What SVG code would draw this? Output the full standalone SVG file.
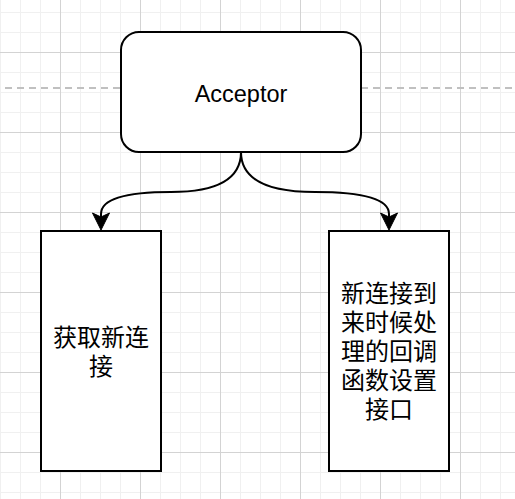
<svg xmlns="http://www.w3.org/2000/svg" width="515" height="499" viewBox="0 0 515 499">
<defs>
<pattern id="grid" x="60" y="52" width="80" height="80" patternUnits="userSpaceOnUse">
<path d="M20.5 0V80M40.5 0V80M60.5 0V80M0 20.5H80M0 40.5H80M0 60.5H80" stroke="#f0f0f0" stroke-width="1" fill="none"/>
<path d="M0.5 0V80M0 0.5H80" stroke="#d3d3d3" stroke-width="1" fill="none"/>
</pattern>
<marker id="arrow" markerUnits="userSpaceOnUse" markerWidth="20" markerHeight="20" refX="0" refY="0" orient="auto" overflow="visible">
<path d="M8 0L-9 -8.5L-5 0L-9 8.5Z" fill="#000" stroke="#000" stroke-width="1"/>
</marker>
</defs>
<style>
.node{fill:#fff;stroke:#000;stroke-width:2}
.edge{fill:none;stroke:#000;stroke-width:2;marker-end:url(#arrow)}
.lbl{font-family:"Liberation Sans","Noto Sans CJK SC",sans-serif;fill:#000;text-anchor:middle}
.cjk{font-family:"Noto Sans CJK SC","Liberation Sans",sans-serif;font-size:24px;fill:#000;text-anchor:middle}
</style>
<rect width="515" height="499" fill="#fff"/>
<rect width="515" height="499" fill="url(#grid)"/>
<path d="M5 88H121M361 88H515" stroke="#c0c0c0" stroke-width="2" stroke-dasharray="7 5" fill="none"/>
<g id="connectors">
<path class="edge" d="M241 152Q241 192 171 192Q101 192 101 214L101 222"/>
<path class="edge" d="M241 152Q241 192 315 192Q389 192 389 214L389 222"/>
</g>
<g id="acceptor">
<rect class="node" x="121" y="32" width="240" height="120" rx="18" ry="18"/>
<text class="lbl" x="241" y="101.5" font-size="23.5">Acceptor</text>
</g>
<g id="get-conn">
<rect class="node" x="41" y="231" width="120" height="240"/>
<text class="cjk" x="101" y="345.5">获取新连</text>
<text class="cjk" x="101" y="374.5">接</text>
</g>
<g id="callback">
<rect class="node" x="329" y="231" width="120" height="240"/>
<text class="cjk" x="389" y="302">新连接到</text>
<text class="cjk" x="389" y="331">来时候处</text>
<text class="cjk" x="389" y="360">理的回调</text>
<text class="cjk" x="389" y="389">函数设置</text>
<text class="cjk" x="389" y="418">接口</text>
</g>
</svg>
